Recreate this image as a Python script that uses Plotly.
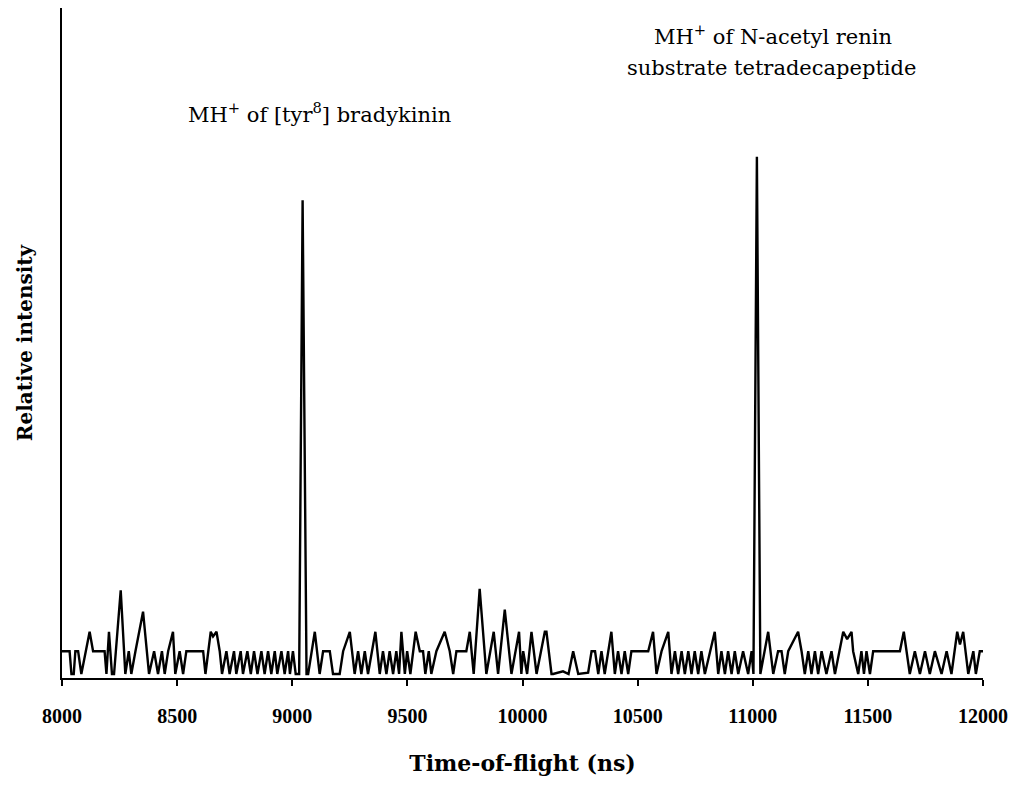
import plotly.graph_objects as go

# Time-of-flight (ns) and relative intensity
tof_ns = [
    8000, 8033, 8041, 8051, 8058, 8070, 8084, 8120, 8135, 8185, 8193, 8204, 8217, 8226, 8255, 8275,
    8290, 8301, 8319, 8352, 8378, 8400, 8417, 8434, 8446, 8461, 8482, 8492, 8511, 8526, 8540, 8613,
    8623, 8646, 8656, 8671, 8685, 8695, 8714, 8728, 8747, 8757, 8776, 8786, 8805, 8820, 8834, 8849,
    8866, 8880, 8895, 8909, 8924, 8935, 8953, 8967, 8982, 8990, 9003, 9015, 9030, 9045, 9062, 9069,
    9098, 9119, 9134, 9163, 9177, 9206, 9221, 9250, 9271, 9286, 9300, 9315, 9329, 9361, 9380, 9394,
    9409, 9423, 9438, 9452, 9464, 9474, 9489, 9499, 9513, 9536, 9554, 9568, 9578, 9593, 9604, 9626,
    9662, 9684, 9699, 9713, 9756, 9771, 9788, 9814, 9843, 9875, 9894, 9923, 9952, 9985, 9995, 10003,
    10020, 10039, 10061, 10097, 10104, 10126, 10133, 10176, 10200, 10220, 10242, 10285, 10300, 10315,
    10329, 10343, 10357, 10386, 10401, 10415, 10430, 10444, 10459, 10473, 10546, 10567, 10582, 10604,
    10633, 10647, 10662, 10676, 10691, 10705, 10720, 10734, 10748, 10763, 10777, 10792, 10835, 10850,
    10864, 10879, 10893, 10908, 10922, 10937, 10958, 10980, 10995, 11003, 11018, 11033, 11067, 11089,
    11110, 11125, 11139, 11154, 11197, 11212, 11226, 11241, 11255, 11270, 11284, 11299, 11320, 11342,
    11357, 11378, 11393, 11410, 11429, 11436, 11458, 11472, 11483, 11494, 11509, 11523, 11639, 11656,
    11682, 11704, 11726, 11748, 11769, 11791, 11820, 11842, 11863, 11888, 11900, 11914, 11936, 11958,
    11969, 11986, 12000,
]
intensity = [
    4.0, 4.0, 0.6, 0.6, 4.0, 4.0, 0.6, 6.9, 4.0, 4.0, 0.6, 6.9, 0.6, 0.6, 13.1, 0.6,
    4.0, 0.6, 4.0, 9.9, 0.6, 4.0, 0.6, 4.0, 0.6, 4.0, 6.9, 0.6, 4.0, 0.6, 4.0, 4.0,
    0.6, 6.9, 6.2, 6.9, 4.0, 0.6, 4.0, 0.6, 4.0, 0.6, 4.0, 0.6, 4.0, 0.6, 4.0, 0.6,
    4.0, 0.6, 4.0, 0.6, 4.0, 0.6, 4.0, 0.6, 4.0, 0.6, 4.0, 0.6, 0.6, 71.3, 0.6, 0.6,
    6.9, 0.6, 4.0, 4.0, 0.6, 0.6, 4.0, 6.9, 0.6, 4.0, 0.6, 4.0, 0.6, 6.9, 0.6, 4.0,
    0.6, 4.0, 0.6, 4.0, 0.6, 6.9, 0.6, 4.0, 0.6, 6.9, 4.0, 4.0, 0.6, 4.0, 0.6, 4.0,
    6.9, 4.0, 0.6, 4.0, 4.0, 6.9, 0.6, 13.3, 0.6, 6.9, 0.6, 10.2, 0.6, 6.9, 0.6, 4.0,
    0.6, 6.9, 0.6, 6.9, 6.9, 0.6, 0.6, 1.0, 0.6, 4.0, 0.6, 0.8, 4.0, 4.0,
    0.6, 4.0, 0.6, 6.9, 0.6, 4.0, 0.6, 4.0, 0.6, 4.0, 4.0, 6.9, 0.6, 4.0,
    6.9, 0.6, 4.0, 0.6, 4.0, 0.6, 4.0, 0.6, 4.0, 0.6, 4.0, 0.6, 6.9, 0.6,
    4.0, 0.6, 4.0, 0.6, 4.0, 0.6, 4.0, 0.6, 4.0, 0.6, 77.8, 0.6, 6.9, 0.6,
    4.0, 4.0, 0.6, 4.0, 6.9, 4.0, 0.6, 4.0, 0.6, 4.0, 0.6, 4.0, 0.6, 4.0,
    0.6, 4.0, 6.9, 5.8, 6.9, 4.0, 0.6, 4.0, 0.6, 4.0, 0.6, 4.0, 4.0, 6.9,
    0.6, 4.0, 0.6, 4.0, 0.6, 4.0, 0.6, 4.0, 0.6, 6.9, 5.0, 6.9, 0.6, 4.0,
    0.6, 4.0, 4.0,
]

x_ticks = [8000, 8500, 9000, 9500, 10000, 10500, 11000, 11500, 12000]

SERIF = "Liberation Serif, Times New Roman, serif"
WIDE_SERIF = "DejaVu Serif, serif"

fig = go.Figure()
fig.add_trace(go.Scatter(
    x=tof_ns, y=intensity, mode="lines",
    line=dict(color="black", width=2.4),
    showlegend=False, hoverinfo="skip",
))

fig.add_annotation(x=9119, y=84.3, xref="x", yref="y", showarrow=False,
                   text="MH<sup>+</sup> of [tyr<sup>8</sup>] bradykinin",
                   font=dict(family=WIDE_SERIF, size=21, color="black"))
fig.add_annotation(x=11090, y=95.9, xref="x", yref="y", showarrow=False,
                   text="MH<sup>+</sup> of N-acetyl renin",
                   font=dict(family=WIDE_SERIF, size=21, color="black"))
fig.add_annotation(x=11083, y=91.0, xref="x", yref="y", showarrow=False,
                   text="substrate tetradecapeptide",
                   font=dict(family=WIDE_SERIF, size=21, color="black"))

fig.update_layout(
    width=1009, height=788,
    margin=dict(l=62, r=26, t=8, b=110),
    paper_bgcolor="white", plot_bgcolor="white",
    font=dict(family=SERIF, color="black"),
)
fig.update_xaxes(
    range=[8000, 12000], tickvals=x_ticks, ticktext=[str(v) for v in x_ticks],
    automargin=False,
    showgrid=False, zeroline=False,
    showline=True, linecolor="black", linewidth=2,
    ticks="outside", ticklen=6, tickwidth=1.5, tickcolor="black",
    ticklabelstandoff=13,
    tickfont=dict(family=SERIF, size=20, color="black", weight="bold"),
    title=dict(text="<b>Time-of-flight (ns)</b>", standoff=30,
               font=dict(family=WIDE_SERIF, size=22, color="black")),
)
fig.update_yaxes(
    range=[0, 100], showgrid=False, zeroline=False, automargin=False,
    showline=True, linecolor="black", linewidth=2,
    showticklabels=False, ticks="",
    title=dict(text="<b>Relative intensity</b>", standoff=22,
               font=dict(family=WIDE_SERIF, size=20, color="black")),
)

fig.write_html("out.html")
